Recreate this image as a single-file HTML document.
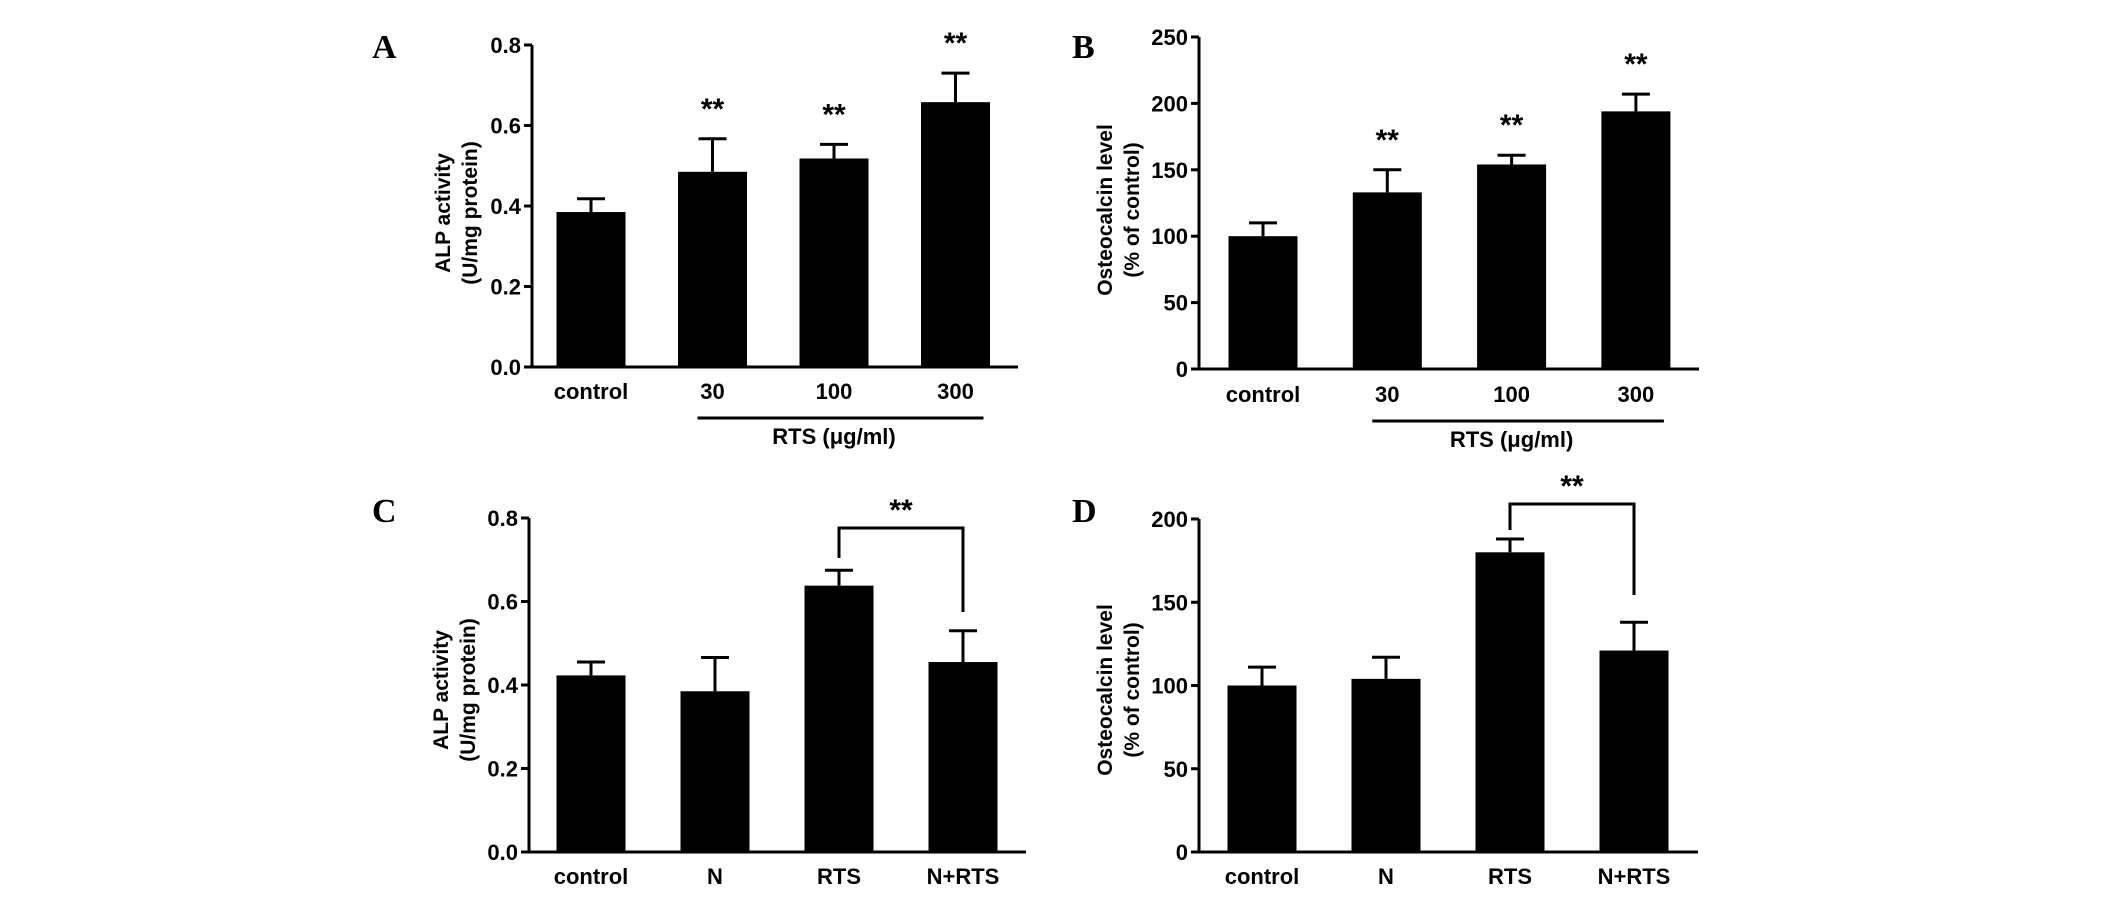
<!DOCTYPE html>
<html><head><meta charset="utf-8"><style>
html,body{margin:0;padding:0;background:#fff;}
svg{display:block;font-family:"Liberation Sans",Arial,sans-serif;}
</style></head><body>
<svg id="fig" width="2126" height="920" viewBox="0 0 2126 920" xmlns="http://www.w3.org/2000/svg"></svg>
<script>
// Panel data
const catsAB = ["control","30","100","300"];
const catsCD = ["control","N","RTS","N+RTS"];
const alpA = [0.385,0.485,0.518,0.658];
const alpAErr = [0.033,0.082,0.035,0.072];
const ostB = [100,133,154,194];
const ostBErr = [10,17,7,13];
const alpC = [0.423,0.385,0.638,0.455];
const alpCErr = [0.032,0.081,0.037,0.075];
const ostD = [100,104,180,121];
const ostDErr = [11,13,8,17];
const ticksAC = [0,0.2,0.4,0.6,0.8];
const tickLabelsAC = ["0.0","0.2","0.4","0.6","0.8"];
const ticksB = [0,50,100,150,200,250];
const ticksD = [0,50,100,150,200];

const NS="http://www.w3.org/2000/svg";
const svg=document.getElementById('fig');
function mk(tag,attrs,parent){const e=document.createElementNS(NS,tag);for(const k in attrs)e.setAttribute(k,attrs[k]);(parent||svg).appendChild(e);return e;}

function panel(p){
  const g=mk('g',{});
  
  
  const y=v=>p.y0-(v-p.vmin)/(p.vmax-p.vmin)*(p.y0-p.y1);
  const cx=i=>p.firstC+i*p.step;
  const bw=69;
  const L=mk('text',{x:p.lx,y:p.ly,'font-family':'"Liberation Serif",serif','font-weight':'bold','font-size':34},g);
  L.textContent=p.id;
  
  
  p.vals.forEach((v,i)=>{
    const r=mk('rect',{x:cx(i)-bw/2,y:y(v),width:bw,height:y(p.vmin)-y(v),fill:'#000'},g);
    
    
    const top=y(v+p.errs[i]);
    const e=mk('path',{d:`M${cx(i)},${y(v)} V${top} M${cx(i)-14},${top} H${cx(i)+14}`,stroke:'#000','stroke-width':3,fill:'none'},g);
    
    
    const t=mk('text',{x:cx(i),y:p.labY,'text-anchor':'middle','font-weight':'bold','font-size':22},g);
    t.textContent=p.cats[i];
    
    
  });
  const ax=mk('path',{d:`M${p.ax},${y(p.vmax)} V${p.y0} H${p.xEnd}`,stroke:'#000','stroke-width':3,fill:'none'},g);
  
  
  p.ticks.forEach((tv,i)=>{
    mk('line',{x1:p.ax-8,x2:p.ax,y1:y(tv),y2:y(tv),stroke:'#000','stroke-width':3},g);
    const t=mk('text',{x:p.ax-11,y:y(tv)+8,'text-anchor':'end','font-weight':'bold','font-size':22},g);
    t.textContent=p.tickLabels[i];
    
    
  });
  const yt=mk('text',{transform:`translate(${p.tx},${p.ty}) rotate(-90)`,'text-anchor':'middle','font-weight':'bold','font-size':21},g);
  
  
  const t1=mk('tspan',{x:0,y:0},yt);t1.textContent=p.title[0];
  const t2=mk('tspan',{x:0,y:27},yt);t2.textContent=p.title[1];
  if(p.stars){p.stars.forEach(i=>{
    const s=mk('text',{x:cx(i),y:y(p.vals[i]+p.errs[i])-20,'text-anchor':'middle','font-weight':'bold','font-size':30},g);
    s.textContent='**';
    
    
  });}
  if(p.rts){
    const l=mk('line',{x1:cx(1)-15,x2:cx(3)+28,y1:p.labY+19,y2:p.labY+19,stroke:'#000','stroke-width':3},g);
    
    
    const t=mk('text',{x:cx(2),y:p.labY+45,'text-anchor':'middle','font-weight':'bold','font-size':22},g);
    t.textContent='RTS (\u03bcg/ml)';
    
    
  }
  if(p.bracket){
    const b=p.bracket;
    const br=mk('path',{d:`M${cx(2)},${b.ly} V${b.top} H${cx(3)} V${b.ry}`,stroke:'#000','stroke-width':3,fill:'none'},g);
    
    
    const s=mk('text',{x:(cx(2)+cx(3))/2,y:b.top-8,'text-anchor':'middle','font-weight':'bold','font-size':30},g);
    s.textContent='**';
    
    
  }
}
panel({id:'A',cats:catsAB,vals:alpA,errs:alpAErr,vmin:0,vmax:0.8,y0:367,y1:45,ax:532,xEnd:1018,firstC:591,step:121.5,
  ticks:ticksAC,tickLabels:tickLabelsAC,lx:372,ly:58,tx:450,ty:213,title:['ALP activity','(U/mg protein)'],labY:399,stars:[1,2,3],rts:true});
panel({id:'B',cats:catsAB,vals:ostB,errs:ostBErr,vmin:0,vmax:250,y0:369,y1:37,ax:1199,xEnd:1699,firstC:1263,step:124.3,
  ticks:ticksB,tickLabels:ticksB.map(String),lx:1072,ly:58,tx:1112,ty:210,title:['Osteocalcin level','(% of control)'],labY:402,stars:[1,2,3],rts:true});
panel({id:'C',cats:catsCD,vals:alpC,errs:alpCErr,vmin:0,vmax:0.8,y0:852,y1:518,ax:529,xEnd:1026,firstC:591,step:124,
  ticks:ticksAC,tickLabels:tickLabelsAC,lx:372,ly:522,tx:448,ty:690,title:['ALP activity','(U/mg protein)'],labY:884,bracket:{top:528,ly:558,ry:612}});
panel({id:'D',cats:catsCD,vals:ostD,errs:ostDErr,vmin:0,vmax:200,y0:852,y1:519,ax:1199,xEnd:1698,firstC:1262,step:124,
  ticks:ticksD,tickLabels:ticksD.map(String),lx:1072,ly:522,tx:1112,ty:690,title:['Osteocalcin level','(% of control)'],labY:884,bracket:{top:504,ly:530,ry:595}});
</script>
</body></html>
